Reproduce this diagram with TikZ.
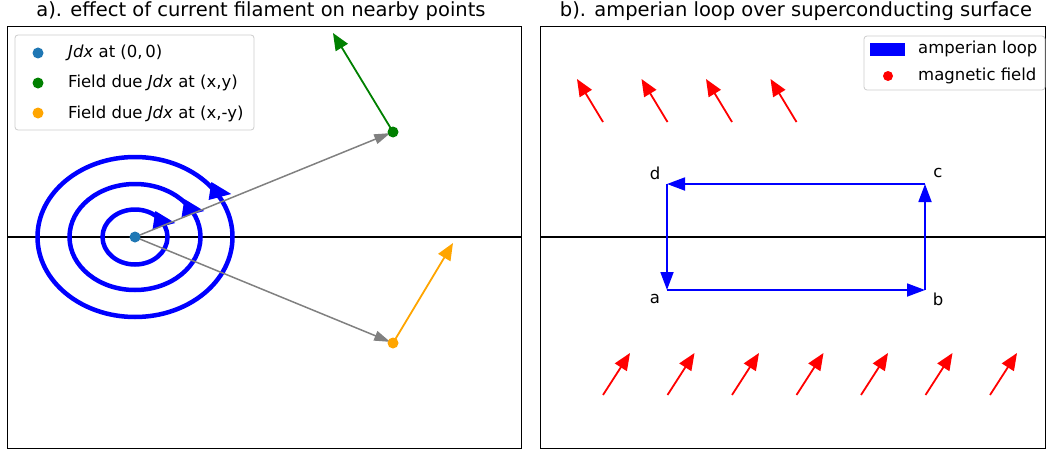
\documentclass[tikz,border=0pt]{standalone}
\usepackage{fontspec}
\setmainfont{DejaVu Sans}
\usetikzlibrary{arrows.meta}
\definecolor{mplblue}{HTML}{1F77B4}
\definecolor{mplgreen}{HTML}{008000}
\definecolor{mplorange}{HTML}{FFA500}
\definecolor{mplgray}{HTML}{808080}
\definecolor{legendedge}{HTML}{CCCCCC}
\definecolor{loopblue}{HTML}{0000FF}
\definecolor{fieldred}{HTML}{FF0000}

\begin{document}
\begin{tikzpicture}[x=1pt,y=-1pt,
    every node/.style={font=\fontsize{16.5}{19}\selectfont,inner sep=0pt},
    titletext/.style={font=\fontsize{19.5}{23}\selectfont,anchor=base},
    vecarrow/.style={line width=1.8pt,-{Triangle[length=17pt,width=14pt]}},
    looparrow/.style={loopblue,line width=1.8pt,-{Triangle[length=18pt,width=13pt]}},
    legendbox/.style={draw=legendedge,fill=white,rounded corners=3pt,line width=0.8pt}]
  \useasboundingbox (0,0) rectangle (1046,452);

  % panel a
  \node[titletext] (titlea) at (261,17) {a). effect of current filament on nearby points};
  \draw[line width=1pt] (7,27) rectangle (521,448);
  \draw[line width=1.8pt] (7,237) -- (521,237);

  \coordinate (origin) at (135,237);
  \foreach \rx/\ry in {32.5/27.5,65.5/53,97.5/80}
    \draw[loopblue,line width=4.5pt] (origin) ellipse [x radius=\rx, y radius=\ry];
  \foreach \bx/\by in {154/220,183/208,210/191}
    \fill[loopblue] (\bx,\by) ++(1.4,-9) -- ++(19.8,12) -- ++(-22.6,6) -- cycle;

  \coordinate (pxy) at (393,132);
  \coordinate (pxny) at (393,343);
  \coordinate (bxy) at (333,33);
  \coordinate (bxny) at (453,243);
  \draw[mplgray,line width=1.5pt,-{Triangle[length=16pt,width=10pt]},shorten >=3pt] (origin) -- (pxy);
  \draw[mplgray,line width=1.5pt,-{Triangle[length=16pt,width=10pt]},shorten >=3pt] (origin) -- (pxny);
  \draw[vecarrow,mplgreen] (pxy) -- (bxy);
  \draw[vecarrow,mplorange] (pxny) -- (bxny);
  \fill[mplblue] (origin) circle (5.5);
  \fill[mplgreen] (pxy) circle (5.5);
  \fill[mplorange] (pxny) circle (5.5);

  \draw[legendbox] (15,35) rectangle (254,130);
  \fill[mplblue] (38,53) circle (5.5);
  \fill[mplgreen] (38,83) circle (5.5);
  \fill[mplorange] (38,113) circle (5.5);
  \node[anchor=base west] (leg1) at (68,58) {\textit{Jdx} at (0,\,0)};
  \node[anchor=base west] (leg2) at (68,88) {Field due \textit{Jdx} at (x,y)};
  \node[anchor=base west] (leg3) at (68,118) {Field due \textit{Jdx} at (x,-y)};

  % panel b
  \node[titletext] (titleb) at (796,17) {b). amperian loop over superconducting surface};
  \draw[line width=1pt] (540,27) rectangle (1045,448);
  \draw[line width=1.8pt] (540,237) -- (1045,237);

  \foreach \i in {0,...,3}
    \draw[vecarrow,fieldred] ({603+64.5*\i},122) -- ++(-26,-43);
  \foreach \i in {0,...,6}
    \draw[vecarrow,fieldred] ({603+64.5*\i},395) -- ++(27,-42);

  \coordinate (a) at (667,290);
  \coordinate (b) at (925,290);
  \coordinate (c) at (925,184);
  \coordinate (d) at (667,184);
  \draw[looparrow] (a) -- (b);
  \draw[looparrow] (b) -- (c);
  \draw[looparrow] (c) -- (d);
  \draw[looparrow] (d) -- (a);
  \node (la) at (655,299) {a};
  \node (lb) at (938,299) {b};
  \node (lc) at (938,173) {c};
  \node (ld) at (655,173) {d};

  \draw[legendbox] (864,36) rectangle (1045,90);
  \fill[loopblue] (870,43) rectangle (905,56);
  \fill[fieldred] (888,76) circle (5);
  \node[anchor=base west] (legloop) at (918,54) {amperian loop};
  \node[anchor=base west] (legfield) at (918,80) {magnetic field};
\end{tikzpicture}
\end{document}
